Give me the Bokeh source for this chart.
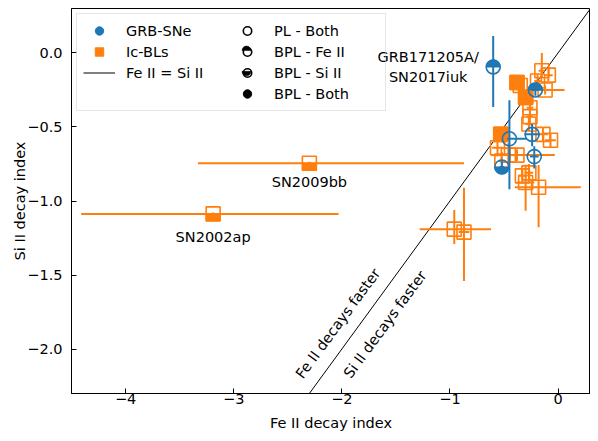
import numpy as np
from bokeh.plotting import figure
from bokeh.models import (Legend, LegendItem, FixedTicker, CustomJSTickFormatter,
                          Label, Range1d)
from bokeh.embed import file_html
from bokeh.resources import INLINE

# ---------------- axes ----------------
x_lim = (-4.5, 0.3)
y_lim = (-2.3, 0.3)
x_ticks = [-4, -3, -2, -1, 0]
y_ticks = [0.0, -0.5, -1.0, -1.5, -2.0]

# ---------------- GRB-SNe (Fe II index, Si II index, errors, fit type) ----------------
grb_fe = [-0.60, -0.21, -0.45, -0.24, -0.22, -0.52]
grb_si = [-0.095, -0.25, -0.58, -0.55, -0.70, -0.77]
grb_fe_lo = [0.00, 0.03, 0.02, 0.07, 0.04, 0.02]
grb_fe_hi = [0.00, 0.03, 0.16, 0.07, 0.04, 0.02]
grb_si_lo = [0.27, 0.04, 0.34, 0.08, 0.08, 0.04]
grb_si_hi = [0.21, 0.03, 0.26, 0.07, 0.07, 0.04]
grb_fit = ["BPL-Fe", "BPL-Fe", "PL", "PL", "PL", "BPL-Si"]
grb_label = "GRB171205A/\nSN2017iuk"

# ---------------- Ic-BLs ----------------
ic_fe = [-2.30, -3.19, -0.96, -0.87, -0.30, -0.18, -0.27, -0.15, -0.09, -0.19,
         -0.12, -0.38, -0.35, -0.30, -0.26, -0.26, -0.27, -0.53, -0.14, -0.07,
         -0.56, -0.38, -0.52, -0.33, -0.46]
ic_si = [-0.745, -1.087, -1.19, -1.21, -0.875, -0.907, -0.81, -0.12, -0.15, -0.19,
         -0.25, -0.20, -0.22, -0.30, -0.37, -0.43, -0.48, -0.55, -0.55, -0.59,
         -0.64, -0.69, -0.73, -0.83, -0.69]
ic_fe_lo = [1.03, 1.22, 0.32, 0.05, 0.08, 0.22, 0.04, 0.03, 0.04, 0.03,
            0.14, 0.03, 0.03, 0.03, 0.03, 0.03, 0.03, 0.03, 0.05, 0.05,
            0.05, 0.24, 0.03, 0.04, 0.03]
ic_fe_hi = [1.43, 1.16, 0.34, 0.05, 0.08, 0.39, 0.04, 0.03, 0.04, 0.03,
            0.18, 0.03, 0.03, 0.03, 0.03, 0.03, 0.03, 0.03, 0.05, 0.05,
            0.05, 0.35, 0.03, 0.04, 0.03]
ic_si_lo = [0.01, 0.01, 0.10, 0.33, 0.19, 0.27, 0.06, 0.05, 0.04, 0.05,
            0.03, 0.03, 0.03, 0.04, 0.06, 0.06, 0.05, 0.05, 0.05, 0.05,
            0.06, 0.04, 0.06, 0.05, 0.08]
ic_si_hi = [0.01, 0.01, 0.13, 0.30, 0.12, 0.15, 0.06, 0.12, 0.04, 0.05,
            0.03, 0.03, 0.03, 0.04, 0.06, 0.06, 0.05, 0.05, 0.05, 0.05,
            0.06, 0.04, 0.06, 0.05, 0.08]
ic_fit = ["BPL-Si", "BPL-Si", "PL", "PL", "PL", "PL", "PL", "PL", "PL", "PL",
          "PL", "BPL-Both", "PL", "BPL-Both", "PL", "PL", "PL", "BPL-Both", "PL", "PL",
          "PL", "PL", "PL", "PL", "PL"]
named_sne = ["SN2009bb", "SN2002ap"]
named_idx = [0, 1]

BLUE = "#1f77b4"
ORANGE = "#ff7f0e"
FONT = "DejaVu Sans"
FS = "14.5px"
MSIZE = 14

W, H = 590, 433
B_LEFT, B_RIGHT, B_TOP, B_BOTTOM = 71, 0, 8, 36
FRAME_W = W - B_LEFT - B_RIGHT
FRAME_H = H - B_TOP - B_BOTTOM

p = figure(width=W, height=H, x_range=Range1d(*x_lim), y_range=Range1d(*y_lim),
           output_backend="svg", toolbar_location=None,
           min_border_left=B_LEFT, min_border_right=B_RIGHT,
           min_border_top=B_TOP, min_border_bottom=B_BOTTOM)
p.grid.visible = False
p.outline_line_color = "black"
p.outline_line_width = 1
p.background_fill_color = "white"

for ax in (p.xaxis[0], p.yaxis[0]):
    ax.major_tick_in = 5
    ax.major_tick_out = 0
    ax.minor_tick_line_color = None
    ax.axis_line_color = "black"
    ax.major_label_text_font = FONT
    ax.major_label_text_font_size = FS
    ax.major_label_text_color = "black"
    ax.axis_label_text_font = FONT
    ax.axis_label_text_font_size = FS
    ax.axis_label_text_font_style = "normal"
    ax.axis_label_text_color = "black"

p.xaxis.ticker = FixedTicker(ticks=x_ticks)
p.yaxis.ticker = FixedTicker(ticks=y_ticks)
p.xaxis.formatter = CustomJSTickFormatter(code="return tick.toFixed(0).replace('-', '\u2212')")
p.yaxis.formatter = CustomJSTickFormatter(code="return tick.toFixed(1).replace('-', '\u2212')")
p.xaxis.axis_label = "Fe II decay index"
p.yaxis.axis_label = "Si II decay index"
p.xaxis.major_label_standoff = 0
p.xaxis.axis_label_standoff = 8
p.yaxis.major_label_standoff = 9
p.yaxis.axis_label_standoff = -4

# one-to-one line
diag = [x_lim[0], x_lim[1]]
r_line = p.line(diag, diag, line_color="black", line_width=1)

dy_half = (MSIZE / 4.0) * (y_lim[1] - y_lim[0]) / FRAME_H


def draw_group(fe, si, felo, fehi, silo, sihi, fit, color, marker):
    fe = np.array(fe); si = np.array(si)
    felo = np.array(felo); fehi = np.array(fehi)
    silo = np.array(silo); sihi = np.array(sihi)
    fit = np.array(fit)
    p.segment(x0=fe - felo, y0=si, x1=fe + fehi, y1=si, line_color=color, line_width=2)
    p.segment(x0=fe, y0=si - silo, x1=fe, y1=si + sihi, line_color=color, line_width=2)
    p.scatter(fe, si, marker=marker, size=MSIZE, fill_color=None,
              line_color=color, line_width=1.6)
    full = fit == "BPL-Both"
    if full.any():
        p.scatter(fe[full], si[full], marker=marker, size=MSIZE, fill_color=color,
                  line_color=color, line_width=1.6)
    for kind, sgn in (("BPL-Fe", 1), ("BPL-Si", -1)):
        m = fit == kind
        if not m.any():
            continue
        if marker == "circle":
            a0, a1 = (0, np.pi) if sgn > 0 else (np.pi, 2 * np.pi)
            p.wedge(fe[m], si[m], radius=MSIZE / 2, radius_units="screen",
                    start_angle=a0, end_angle=a1, fill_color=color, line_color=color,
                    line_width=1)
        else:
            p.rect(fe[m], si[m] + sgn * dy_half, width=MSIZE, height=MSIZE / 2,
                   width_units="screen", height_units="screen",
                   fill_color=color, line_color=color, line_width=1)


draw_group(ic_fe, ic_si, ic_fe_lo, ic_fe_hi, ic_si_lo, ic_si_hi, ic_fit, ORANGE, "square")
draw_group(grb_fe, grb_si, grb_fe_lo, grb_fe_hi, grb_si_lo, grb_si_hi, grb_fit, BLUE, "circle")

# annotations
p.add_layout(Label(x=grb_fe[0], y=grb_si[0], text=grb_label, x_offset=-65,
                   text_align="center", text_baseline="middle",
                   text_font=FONT, text_font_size=FS, text_color="black"))
for name, i, off in zip(named_sne, named_idx, [-19, -23]):
    p.add_layout(Label(x=ic_fe[i], y=ic_si[i], text=name, y_offset=off,
                       text_align="center", text_baseline="middle",
                       text_font=FONT, text_font_size=FS, text_color="black"))
ang = np.arctan2(150, 110)
p.add_layout(Label(x=-2.036, y=-1.827, text="Fe II decays faster", angle=ang,
                   text_align="center", text_baseline="middle",
                   text_font=FONT, text_font_size=FS, text_color="black"))
p.add_layout(Label(x=-1.60, y=-1.833, text="Si II decays faster", angle=ang,
                   text_align="center", text_baseline="middle",
                   text_font=FONT, text_font_size=FS, text_color="black"))

# legend proxies (single off-screen NaN point so the legend glyph is drawn)
nan = np.array([np.nan])
r_grb = p.scatter(nan, nan, marker="circle", size=MSIZE, fill_color=BLUE, line_color=BLUE)
r_ic = p.scatter(nan, nan, marker="square", size=MSIZE, fill_color=ORANGE, line_color=ORANGE)
r_blank = p.scatter(nan, nan, marker="circle", size=MSIZE, fill_alpha=0, line_alpha=0)
r_pl = p.scatter(nan, nan, marker="circle", size=MSIZE, fill_color=None, line_color="black", line_width=1.6)
r_bfe = p.scatter(nan, nan, marker="circle", size=MSIZE, fill_color=None, line_color="black", line_width=1.6)
r_bsi = p.scatter(nan, nan, marker="circle", size=MSIZE, fill_color=None, line_color="black", line_width=1.6)
r_both = p.scatter(nan, nan, marker="circle", size=MSIZE, fill_color="black", line_color="black")

LG_PAD, LG_MARGIN, GW, GH, LSTAND, LW = 6, 5, 32, 21, 11, 105
legend = Legend(items=[
    LegendItem(label="GRB-SNe", renderers=[r_grb]),
    LegendItem(label="Ic-BLs", renderers=[r_ic]),
    LegendItem(label="Fe II = Si II", renderers=[r_line]),
    LegendItem(label=" ", renderers=[r_blank]),
    LegendItem(label="PL - Both", renderers=[r_pl]),
    LegendItem(label="BPL - Fe II", renderers=[r_bfe]),
    LegendItem(label="BPL - Si II", renderers=[r_bsi]),
    LegendItem(label="BPL - Both", renderers=[r_both]),
], location="top_left", nrows=4, orientation="vertical")
legend.label_text_font = FONT
legend.label_text_font_size = FS
legend.label_text_color = "black"
legend.glyph_width = GW
legend.glyph_height = GH
legend.label_height = GH
legend.label_width = LW
legend.label_standoff = LSTAND
legend.spacing = 0
legend.padding = LG_PAD
legend.margin = LG_MARGIN
legend.border_line_color = "#cccccc"
legend.border_line_width = 1
legend.background_fill_alpha = 0.0
legend.level = "annotation"
p.add_layout(legend)

# half fill of the "BPL - Fe II" / "BPL - Si II" legend symbols
leg_r = 0.4 * min(GW, GH) / 2 + 0.3
col2_cx = LG_MARGIN + LG_PAD + (GW + LSTAND + LW) + GW / 2
hx, hy, ha0, ha1 = [], [], [], []
for row, top in ((1, True), (2, False)):
    cy = LG_MARGIN + LG_PAD + row * GH + GH / 2
    hx.append(x_lim[0] + col2_cx * (x_lim[1] - x_lim[0]) / FRAME_W)
    hy.append(y_lim[1] - cy * (y_lim[1] - y_lim[0]) / FRAME_H)
    ha0.append(0.0 if top else np.pi)
    ha1.append(np.pi if top else 2 * np.pi)
p.wedge(x=hx, y=hy, radius=leg_r, radius_units="screen", start_angle=ha0, end_angle=ha1,
        fill_color="black", line_color="black", line_width=0.5, level="overlay")

open("out.html", "w").write(file_html(p, INLINE))
